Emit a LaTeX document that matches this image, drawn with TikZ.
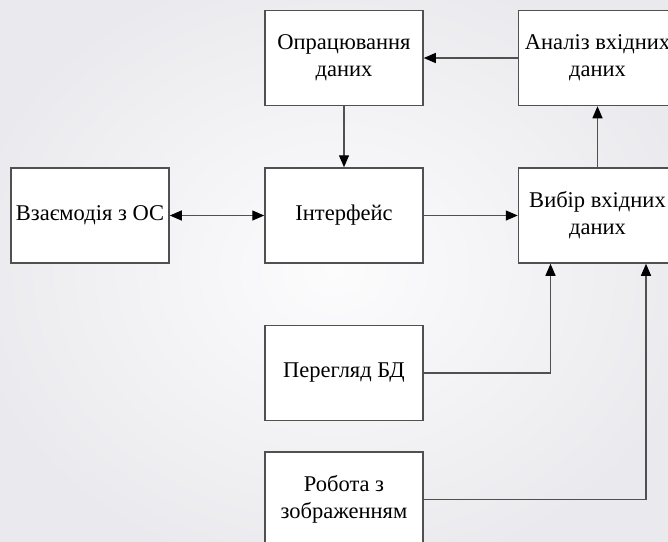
\documentclass[tikz,border=0pt]{standalone}
\usepackage{fontspec}
\setmainfont{Liberation Serif}
\usetikzlibrary{arrows.meta}
\definecolor{linec}{RGB}{80,80,80}
\definecolor{bgin}{RGB}{252,252,253}
\definecolor{bgout}{RGB}{234,234,238}
\begin{document}
\begin{tikzpicture}[x=1pt,y=-1pt,
  blk/.style={draw=linec, line width=1.5pt, fill=white, minimum width=158pt,
    minimum height=95pt, inner sep=0pt, align=center,
    font=\rmfamily\fontsize{22.5}{27}\selectfont},
  tip/.style={-{Triangle[length=12pt,width=10pt,color=black]}},
  link/.style={draw=linec, line width=1.3pt, tip},
]
% canvas and soft background
\useasboundingbox (0,0) rectangle (668,541);
\clip (0,0) rectangle (668,541);
\shade[inner color=bgin, outer color=bgout] (-40,-40) rectangle (708,581);

% blocks
\node[blk] (proc)  at (344,58)    {Опрацювання\\даних};
\node[blk] (anal)  at (597.5,58)  {Аналіз вхідних\\даних};
\node[blk] (vzaem) at (90,215.5)  {Взаємодія з ОС};
\node[blk] (intf)  at (344,215.5) {Інтерфейс};
\node[blk] (vybir) at (597.5,215.5) {Вибір вхідних\\даних};
\node[blk] (pere)  at (344,373)   {Перегляд БД};
\node[blk] (robo)  at (344,499.5) {Робота з\\зображенням};

% connectors
\draw[link] (anal.west) -- (proc.east);
\draw[link] (proc.south) -- (intf.north);
\draw[link, {Triangle[length=12pt,width=10pt,color=black]}-{Triangle[length=12pt,width=10pt,color=black]}]
  (vzaem.east) -- (intf.west);
\draw[link] (intf.east) -- (vybir.west);
\draw[link] (vybir.north) -- (anal.south);
\draw[link] (pere.east) -| ([xshift=-47pt]vybir.south);
\draw[link] (robo.east) -| ([xshift=48.5pt]vybir.south);
\end{tikzpicture}
\end{document}
